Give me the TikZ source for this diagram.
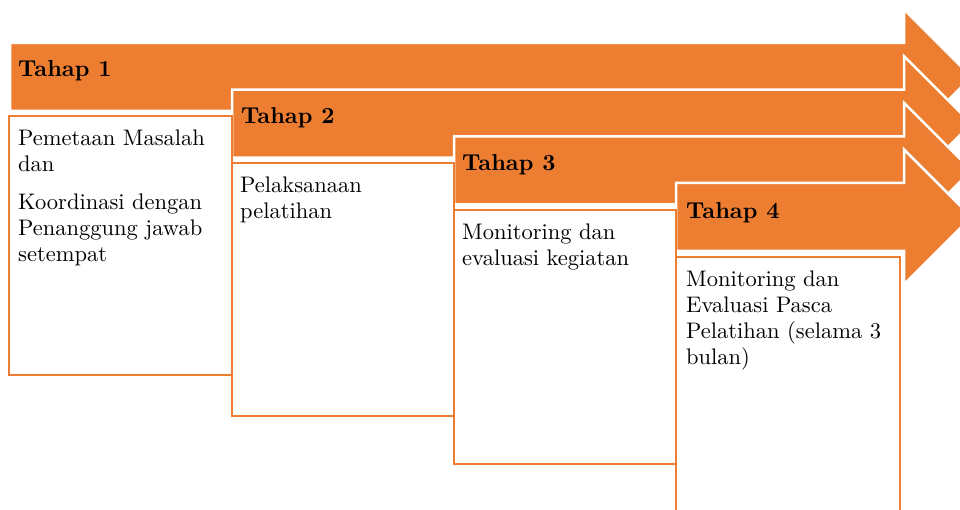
\documentclass[tikz,border=0pt]{standalone}
\usepackage{fontspec}
\setmainfont{lmroman10-regular.otf}[BoldFont=lmroman10-bold.otf, ItalicFont=lmroman10-italic.otf]
\definecolor{acc}{HTML}{ED7D31}
\tikzset{
  arrowshape/.style={fill=acc, draw=white, line width=2.5pt, line join=miter},
  stepbox/.style={draw=acc, line width=2.3pt, fill=white},
  headtxt/.style={anchor=base west, inner sep=0pt, font=\fontsize{23}{26}\selectfont\bfseries},
  bodytxt/.style={anchor=north west, inner sep=0pt, align=left, font=\fontsize{22.5}{26}\selectfont}
}
\newcommand{\steparrow}[2]{% #1 left x, #2 top y
  \path[arrowshape] (#1,#2) -- (904,#2) -- (904,#2-33.5) -- (971.5,#2+34) -- (904,#2+101.5) -- (904,#2+68) -- (#1,#2+68) -- cycle;}
\begin{document}
\begin{tikzpicture}[x=1pt,y=-1pt]
\useasboundingbox (0,0) rectangle (960,510);
\begin{scope}
\clip (0,0) rectangle (960,510);
% arrows
\steparrow{10}{43}
\steparrow{232}{89.7}
\steparrow{454}{136.4}
\steparrow{676}{183}
% boxes
\path[stepbox] (9,116) rectangle (232,375);
\path[stepbox] (232,163) rectangle (454,416);
\path[stepbox] (454,210) rectangle (676,464);
\path[stepbox] (676,257) rectangle (900,514);
\end{scope}
% headings
\node[headtxt] (h1) at (18,77) {Tahap 1};
\node[headtxt] (h2) at (241,124) {Tahap 2};
\node[headtxt] (h3) at (462,171) {Tahap 3};
\node[headtxt] (h4) at (686,219) {Tahap 4};
% body texts
\node[bodytxt] (b1) at (18,129.5) {Pemetaan Masalah\\ dan\\[12pt] Koordinasi dengan\\ Penanggung jawab\\ setempat};
\node[bodytxt] (b2) at (240,176.5) {Pelaksanaan\\ pelatihan};
\node[bodytxt] (b3) at (462,223.5) {Monitoring dan\\ evaluasi kegiatan};
\node[bodytxt] (b4) at (686,270.5) {Monitoring dan\\ Evaluasi Pasca\\ Pelatihan (selama 3\\ bulan)};
\end{tikzpicture}
\end{document}
